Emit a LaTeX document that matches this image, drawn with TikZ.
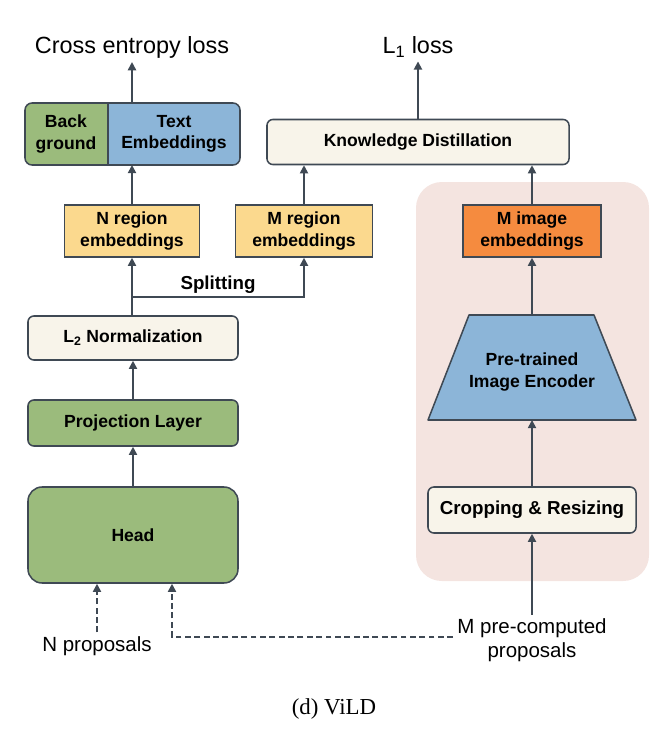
\documentclass[tikz,border=0pt]{standalone}
\usepackage{fontspec}
\setmainfont{Liberation Sans}
\newfontfamily\seriffont{Liberation Serif}
\usetikzlibrary{arrows.meta,shapes.geometric}
\definecolor{bd}{HTML}{3F4954}
\definecolor{gr}{HTML}{9BBB7C}
\definecolor{bl}{HTML}{8CB5D8}
\definecolor{cr}{HTML}{F8F4EA}
\definecolor{ye}{HTML}{FBD98E}
\definecolor{or}{HTML}{F58B3F}
\definecolor{pk}{HTML}{F4E4E0}
\begin{document}
\begin{tikzpicture}[x=0.03cm,y=-0.03cm,
  box/.style={draw=bd,line width=1.3pt,rounded corners=5pt,align=center,inner sep=0pt,font=\fontsize{15}{18}\selectfont\bfseries},
  lab/.style={align=center,font=\fontsize{17.5}{20}\selectfont},
  arr/.style={-{Triangle[length=7pt,width=7pt]},draw=bd,line width=1.5pt},
  darr/.style={arr,dash pattern=on 5pt off 3pt}]
\useasboundingbox (0,0) rectangle (668,730);
\fill[pk,rounded corners=22pt] (416,182) rectangle (649,581);
\node[lab,font=\fontsize{20}{22}\selectfont] (ce) at (132,47) {Cross entropy loss};
\node[lab,font=\fontsize{20}{22}\selectfont] (l1) at (418,47) {L\textsubscript{1} loss};
\fill[gr,rounded corners=6pt] (25,103) -- (108,103) -- (108,165) -- (25,165) -- cycle;
\fill[bl,rounded corners=6pt] (108,103) -- (240,103) -- (240,165) -- (108,165) -- cycle;
\fill[gr] (100,103) rectangle (108,165);
\fill[bl] (108,103) rectangle (116,165);
\draw[bd,line width=1.3pt,rounded corners=6pt] (25,103) rectangle (240,165);
\draw[bd,line width=1.3pt] (108,103) -- (108,165);
\node[box,draw=none] (bg) at (66,134) {Back\\ground};
\node[box,draw=none] (te) at (174,134) {Text\\Embeddings};
\coordinate (btb) at (132,165);
\coordinate (btt) at (132,103);
\node[box,fill=cr,minimum width=9.06cm,minimum height=1.35cm] (kd) at (418,142) {Knowledge Distillation};
\node[box,fill=ye,rounded corners=0pt,minimum width=4.05cm,minimum height=1.56cm] (nr) at (132,231) {N region\\embeddings};
\node[box,fill=ye,rounded corners=0pt,minimum width=4.11cm,minimum height=1.56cm] (mr) at (304,231) {M region\\embeddings};
\node[box,fill=or,rounded corners=0pt,minimum width=4.14cm,minimum height=1.56cm] (mi) at (532,231) {M image\\embeddings};
\node[box,fill=cr,minimum width=6.3cm,minimum height=1.32cm] (l2) at (133,338) {L\textsubscript{2} Normalization};
\node[box,fill=gr,minimum width=6.3cm,minimum height=1.38cm] (pl) at (133,423) {Projection Layer};
\node[box,fill=gr,rounded corners=12pt,minimum width=6.3cm,minimum height=2.88cm] (hd) at (133,535) {Head};
\draw[bd,line width=1.3pt,fill=bl,line join=round] (469,315) -- (594,315) -- (636,420) -- (428,420) -- cycle;
\node[box,draw=none] (enc) at (532,372) {Pre-trained\\Image Encoder};
\coordinate (enct) at (532,315);
\coordinate (encb) at (532,420);
\node[box,fill=cr,minimum width=6.24cm,minimum height=1.38cm,font=\fontsize{16}{19}\selectfont\bfseries] (cr) at (532,510) {Cropping \& Resizing};
\node[lab] (np) at (97,646) {N proposals};
\node[lab] (mp) at (532,640) {M pre-computed\\proposals};
\node[font=\seriffont\fontsize{19.5}{22}\selectfont] (cap) at (334,709) {(d) ViLD};
\draw[arr] (btt) -- (ce);
\draw[arr] (kd) -- (l1);
\draw[arr] (nr) -- (btb);
\draw[arr] (mr) -- (kd.south -| mr);
\draw[arr] (mi) -- (kd.south -| mi);
\draw[arr] (enct) -- (mi);
\draw[arr] (cr) -- (encb);
\draw[arr] (mp) -- (cr);
\draw[arr] (hd) -- (pl);
\draw[arr] (pl) -- (l2);
\coordinate (sp) at (132,297);
\draw[arr] (l2.north -| sp) -- (nr);
\draw[arr] (sp) -- (304,297) -- (mr);
\node[lab,font=\fontsize{16}{19}\selectfont\bfseries] (spl) at (218,285) {Splitting};
\draw[darr] (np.north -| 97,0) -- (hd.south -| 97,0);
\draw[darr] (mp.west |- 0,637) -- (172,637) -- (hd.south -| 172,0);
\end{tikzpicture}
\end{document}
